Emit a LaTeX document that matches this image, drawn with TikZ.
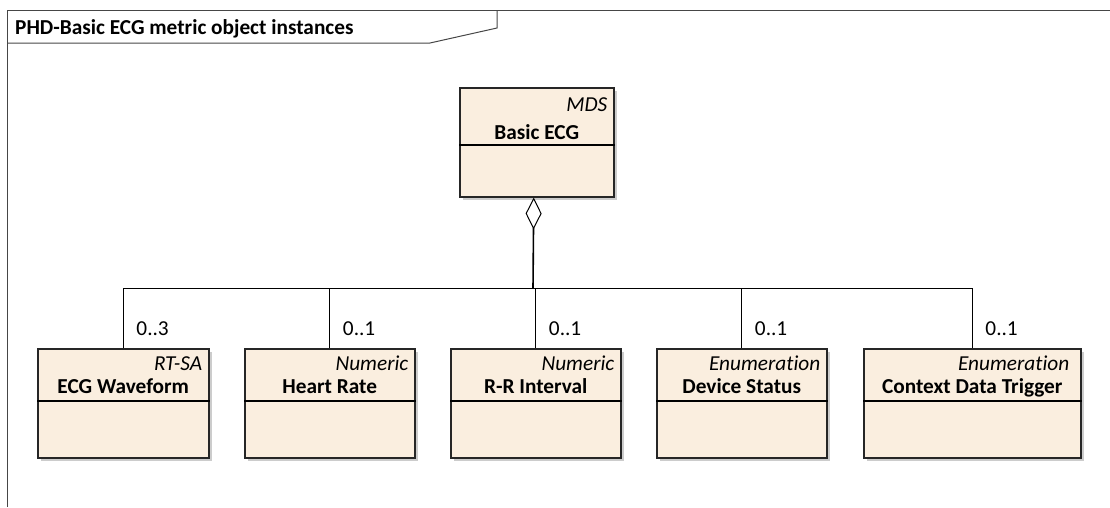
\documentclass[tikz,border=0pt]{standalone}
\usepackage{fontspec}
\setmainfont{Carlito}[Ligatures=NoCommon]
\usepackage{tikz}
\usetikzlibrary{arrows.meta}
\usetikzlibrary{positioning}
\usetikzlibrary{calc}
\usetikzlibrary{shadows}
\definecolor{clsfill}{RGB}{250,238,223}
\definecolor{framecol}{RGB}{70,70,70}

\begin{document}
\begin{tikzpicture}[x=1pt,y=-1pt,
					  cls/.style={draw=black!85,line width=1.5pt,fill=clsfill,minimum height=109pt,inner sep=0pt,
					  	drop shadow={opacity=0.4,shadow xshift=3pt,shadow yshift=-3pt}},
					  stereo/.style={font=\fontsize{21.3}{24}\selectfont\itshape,inner sep=0pt},
					  clsname/.style={font=\fontsize{21.3}{24}\selectfont\bfseries,inner sep=0pt},
					  mult/.style={font=\fontsize{21.3}{24}\selectfont,inner sep=0pt},
					  link/.style={draw=black,line width=1pt}]
					
					  \useasboundingbox (0,0) rectangle (1110,507);
					
					  % frame and title tab
					  \draw[framecol,line width=1pt] (7,507) -- (7,10) -- (1110,10);
					  \draw[framecol,line width=1pt] (497,10) -- (497,28) -- (430,43) -- (7,43);
					  \node[clsname,anchor=base west] (title) at (15,34) {PHD-Basic ECG metric object instances};
					
					  % classes
					  \node[cls,minimum width=154pt,anchor=north west] (mds) at (459,87) {};
					  \node[cls,minimum width=171pt,anchor=north west] (ecg) at (37,348) {};
					  \node[cls,minimum width=170pt,anchor=north west] (hr) at (244,348) {};
					  \node[cls,minimum width=170pt,anchor=north west] (rr) at (450,348) {};
					  \node[cls,minimum width=170pt,anchor=north west] (dev) at (656,348) {};
					  \node[cls,minimum width=217pt,anchor=north west] (ctx) at (863,348) {};
					
					  \draw[black,line width=1.1pt] ($(mds.north west)+(0,58)$) -- ($(mds.north east)+(0,58)$);
					  \foreach \c in {ecg,hr,rr,dev,ctx}
					    \draw[black,line width=1.1pt] ($(\c.north west)+(0,53)$) -- ($(\c.north east)+(0,53)$);
					
					  \node[stereo,anchor=base east] (mdsst) at ($(mds.north east)+(-7,24)$) {MDS};
					  \node[clsname,anchor=base] (mdsnm) at ($(mds.north)+(0,52)$) {Basic ECG};
					
					  \node[stereo,anchor=base east] (ecgst) at ($(ecg.north east)+(-7,22)$) {RT-SA};
					  \node[clsname,anchor=base] (ecgnm) at ($(ecg.north)+(0,45)$) {ECG Waveform};
					  \node[stereo,anchor=base east] (hrst) at ($(hr.north east)+(-7,22)$) {Numeric};
					  \node[clsname,anchor=base] (hrnm) at ($(hr.north)+(0,45)$) {Heart Rate};
					  \node[stereo,anchor=base east] (rrst) at ($(rr.north east)+(-7,22)$) {Numeric};
					  \node[clsname,anchor=base] (rrnm) at ($(rr.north)+(0,45)$) {R-R Interval};
					  \node[stereo,anchor=base east] (devst) at ($(dev.north east)+(-7,22)$) {Enumeration};
					  \node[clsname,anchor=base] (devnm) at ($(dev.north)+(0,45)$) {Device Status};
					  \node[stereo,anchor=base east] (ctxst) at ($(ctx.north east)+(-12,22)$) {Enumeration};
					  \node[clsname,anchor=base] (ctxnm) at ($(ctx.north)+(0,45)$) {Context Data Trigger};
					
					  % aggregation
					  \coordinate (bus) at (533,288);
					  \draw[link,line width=1.6pt,{Diamond[open,length=32pt,width=16pt,line width=1pt]}-] ($(mds.south)+(-3,0)$) -- (bus);
					  \foreach \c/\m in {ecg/0..3,hr/0..1,rr/0..1,dev/0..1,ctx/0..1} {
					    \draw[link] (\c.north) |- (bus);
					    \node[mult,anchor=base west] at ($(\c.north)+(13,-13)$) {\m};
					  }
					\end{tikzpicture}
\end{document}
